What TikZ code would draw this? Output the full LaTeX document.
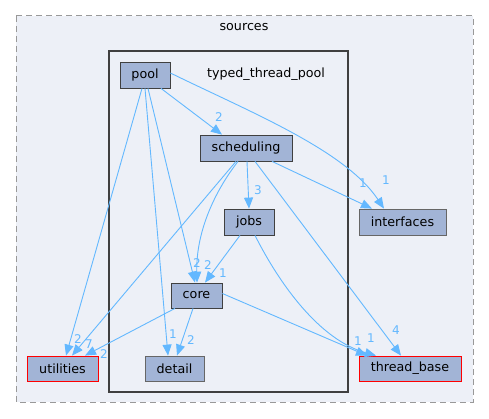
\documentclass[tikz,border=0pt]{standalone}
\usepackage{fontspec}
\setmainfont{DejaVu Sans}
\usetikzlibrary{arrows.meta}
\definecolor{nodefill}{HTML}{A2B4D6}
\definecolor{clfill}{HTML}{EDF0F7}
\definecolor{edgec}{HTML}{63B8FF}
\definecolor{dkb}{HTML}{404040}
\definecolor{ltb}{HTML}{666666}
\tikzset{
  dir/.style={draw=dkb, line width=0.8pt, fill=nodefill, minimum height=26pt, inner sep=0pt, font=\fontsize{12.7}{14}\selectfont, text=black},
  dirl/.style={dir, draw=ltb},
  dirr/.style={dir, draw=red},
  dep/.style={draw=edgec, line width=0.9pt, -{Triangle[length=11pt,width=9pt]}},
  lbl/.style={text=edgec, font=\fontsize{12}{14}\selectfont, inner sep=0pt},
}
\begin{document}
\begin{tikzpicture}[x=1pt,y=-1pt]
\useasboundingbox (0,0) rectangle (489,419);
% clusters
\path[fill=clfill, draw=gray!80, dashed, dash pattern=on 6pt off 4pt, line width=1pt] (16,16) rectangle (473,402);
\node[font=\fontsize{12.7}{14}\selectfont] (srclbl) at (244,27) {sources};
\path[fill=clfill, draw=dkb, line width=2pt] (109,51) rectangle (348,392);
\node[font=\fontsize{12.7}{14}\selectfont] (ttplbl) at (266,74) {typed\_thread\_pool};
% nodes
\node[dir, minimum width=50pt] (pool) at (145,75) {pool};
\node[dir, minimum width=92pt] (sched) at (246,148) {scheduling};
\node[dir, minimum width=50pt] (jobs) at (249,222) {jobs};
\node[dirl, minimum width=87pt] (intf) at (402.5,222) {interfaces};
\node[dir, minimum width=51pt, minimum height=25pt] (core) at (196.5,295.5) {core};
\node[dirl, minimum width=59pt, minimum height=25pt] (detail) at (174.5,368.5) {detail};
\node[dirr, minimum width=71pt, minimum height=25pt] (util) at (62.5,368.5) {utilities};
\node[dirr, minimum width=102pt, minimum height=25pt] (tb) at (410,368.5) {thread\_base};
% edges from pool
\draw[dep] ([xshift=16pt]pool.south) -- ([xshift=-24pt]sched.north);
\draw[dep] ([yshift=2pt]pool.east) .. controls (250,112) and (345,150) .. ([xshift=-18.5pt]intf.north);
\draw[dep] ([xshift=-3pt]pool.south) -- ([xshift=3.5pt]util.north);
\draw[dep] ([xshift=0pt]pool.south) -- ([xshift=-6.5pt]detail.north);
\draw[dep] ([xshift=3pt]pool.south) -- ([xshift=-1.5pt]core.north);
% edges from scheduling
\draw[dep] ([xshift=1pt]sched.south) -- ([xshift=0pt]jobs.north);
\draw[dep] ([xshift=26pt]sched.south) -- ([xshift=-30.5pt]intf.north);
\draw[dep] ([xshift=-8pt]sched.south) .. controls (212,195) and (196,235) .. ([xshift=0.5pt]core.north);
\draw[dep] ([xshift=-10pt]sched.south) -- ([xshift=9.5pt]util.north);
\draw[dep] ([xshift=9pt]sched.south) -- ([xshift=-9pt]tb.north);
% edges from jobs
\draw[dep] ([xshift=-9pt]jobs.south) -- ([xshift=8.5pt]core.north);
\draw[dep] ([xshift=6pt]jobs.south) .. controls (280,285) and (320,340) .. ([xshift=-34pt]tb.north);
% edges from core
\draw[dep] ([xshift=-21.5pt]core.south) -- ([xshift=22.5pt]util.north);
\draw[dep] ([xshift=-3.5pt]core.south) -- ([xshift=2.5pt]detail.north);
\draw[dep] ([yshift=2pt]core.east) -- ([xshift=-43pt]tb.north);
% labels
\node[lbl] (l1) at (219,117) {2};
\node[lbl] (l2) at (386,180) {1};
\node[lbl] (l3) at (363,183) {1};
\node[lbl] (l4) at (258,190) {3};
\node[lbl] (l5) at (197,263) {2};
\node[lbl] (l6) at (208,265) {2};
\node[lbl] (l7) at (223,273) {1};
\node[lbl] (l8) at (78,339) {2};
\node[lbl] (l9) at (89,344) {7};
\node[lbl] (l10) at (104,354) {2};
\node[lbl] (l11) at (173,334) {1};
\node[lbl] (l12) at (191,340) {2};
\node[lbl] (l13) at (358,341) {1};
\node[lbl] (l14) at (371,338) {1};
\node[lbl] (l15) at (396,330) {4};
\end{tikzpicture}
\end{document}
